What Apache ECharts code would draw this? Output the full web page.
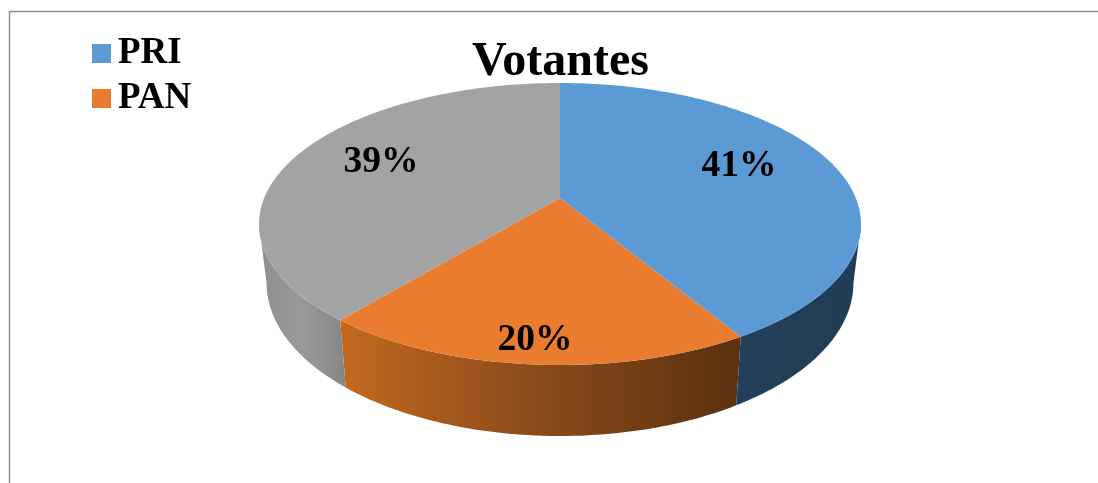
<!DOCTYPE html>
<html lang="es">
  <head>
    <meta charset="UTF-8" />
    <title>Votantes</title>
    <style>
      html, body { margin: 0; padding: 0; background: #fff; }
    </style>
  </head>
  <body>
    <div id="main" style="width: 1098px; height: 483px"></div>

    <script src="https://cdn.jsdelivr.net/npm/echarts@6/dist/echarts.min.js"></script>
    <script>
      // data
      const chartTitle = "Votantes";
      const categories = ["PRI", "PAN", "Otros"];
      const shareValues = [41.4, 19.6, 39];
      const legendNames = ["PRI", "PAN"];

      // styles
      const topColors = ["#5b9ad5", "#ea7c2f", "#a3a3a3"];
      const wallStops = [
        ["#23405a", "#213d55"],
        ["#c2691f", "#8a4a1b", "#5a3110"],
        ["#8f8f8f", "#9a9a9a", "#858585"],
      ];
      const labelPos = [
        [739, 166],
        [535, 340],
        [381, 162],
      ];

      // perspective of the disc: unit circle -> screen
      const cx = 560;
      const persp = -0.1844;
      const scaleX = 295.8;
      const cy = 198;
      const scaleY = 99.7;
      // lower rim of the disc
      const rimX = 0.975;
      const rimTop = 224;
      const rimBase = 283;
      const rimY = 1.085;
      // the wall only shows between the two widest points of the disc
      const wallFrom = (Math.acos(-0.1844) * 180) / Math.PI;
      const wallTo = 360 - wallFrom;

      const total = shareValues.reduce((a, b) => a + b, 0);
      const starts = [];
      shareValues.reduce((acc, v, i) => {
        starts[i] = (acc / total) * 360;
        return acc + v;
      }, 0);

      // deg clockwise from 12 o'clock, r 0..1
      function project(deg, r) {
        const t = (deg * Math.PI) / 180;
        const u = Math.sin(t) * r;
        const v = -Math.cos(t) * r;
        const d = persp * v + 1;
        return [cx + (scaleX * u) / d, (scaleY * v + cy) / d];
      }

      function lower(p) {
        return [cx + (p[0] - cx) * rimX, rimBase + (p[1] - rimTop) * rimY];
      }

      function arc(a, b) {
        const pts = [];
        const n = Math.max(2, Math.ceil(b - a));
        for (let i = 0; i <= n; i++) {
          pts.push(project(a + ((b - a) * i) / n, 1));
        }
        return pts;
      }

      function renderSlice(i) {
        const a = starts[i];
        const b = a + (shareValues[i] / total) * 360;
        const children = [];

        const wa = Math.max(a, wallFrom);
        const wb = Math.min(b, wallTo);
        if (wb > wa) {
          const edge = arc(wa, wb);
          const base = edge.map(lower).reverse();
          const xs = edge.concat(base).map((p) => p[0]);
          const stops = wallStops[i];
          children.push({
            type: "polygon",
            z2: 1,
            shape: { points: edge.concat(base) },
            style: {
              fill: new echarts.graphic.LinearGradient(
                Math.min(...xs), 0, Math.max(...xs), 0,
                stops.map((c, k) => ({ offset: k / (stops.length - 1), color: c })),
                true
              ),
            },
          });
        }

        children.push({
          type: "polygon",
          z2: 5,
          shape: { points: [project(0, 0)].concat(arc(a, b)) },
          style: { fill: topColors[i] },
        });

        children.push({
          type: "text",
          z2: 10,
          style: {
            x: labelPos[i][0],
            y: labelPos[i][1],
            text: Math.round((shareValues[i] / total) * 100) + "%",
            align: "center",
            verticalAlign: "middle",
            fill: "#000",
            font: "bold 37.5px 'Liberation Serif'",
          },
        });

        return { type: "group", children: children };
      }

      var myChart = echarts.init(document.getElementById("main"), null, {
        renderer: "canvas",
      });

      var option = {
        animation: false,
        backgroundColor: "#fff",
        title: {
          text: chartTitle,
          left: 555.5,
          top: 34,
          textAlign: "center",
          textStyle: {
            fontFamily: "Liberation Serif",
            fontWeight: "bold",
            fontSize: 48,
            color: "#000",
          },
        },
        legend: {
          data: legendNames,
          orient: "vertical",
          left: 87,
          top: 30,
          icon: "rect",
          itemWidth: 19,
          itemHeight: 19,
          itemGap: 8,
          selectedMode: false,
          textStyle: {
            fontFamily: "Liberation Serif",
            fontWeight: "bold",
            fontSize: 37,
            color: "#000",
            padding: [0, 0, 0, 2],
          },
        },
        // frame around the chart, cut off by the picture on two sides
        graphic: [
          {
            type: "polyline",
            silent: true,
            shape: { points: [[9.5, 483], [9.5, 11.5], [1098, 11.5]] },
            style: { stroke: "#8e8e8e", lineWidth: 1.5, fill: null },
          },
        ],
        series: categories.map((name, i) => ({
          type: "custom",
          name: name,
          coordinateSystem: "none",
          silent: true,
          itemStyle: { color: topColors[i] },
          data: [shareValues[i]],
          renderItem: () => renderSlice(i),
        })),
      };
      myChart.setOption(option);
    </script>
  </body>
</html>
